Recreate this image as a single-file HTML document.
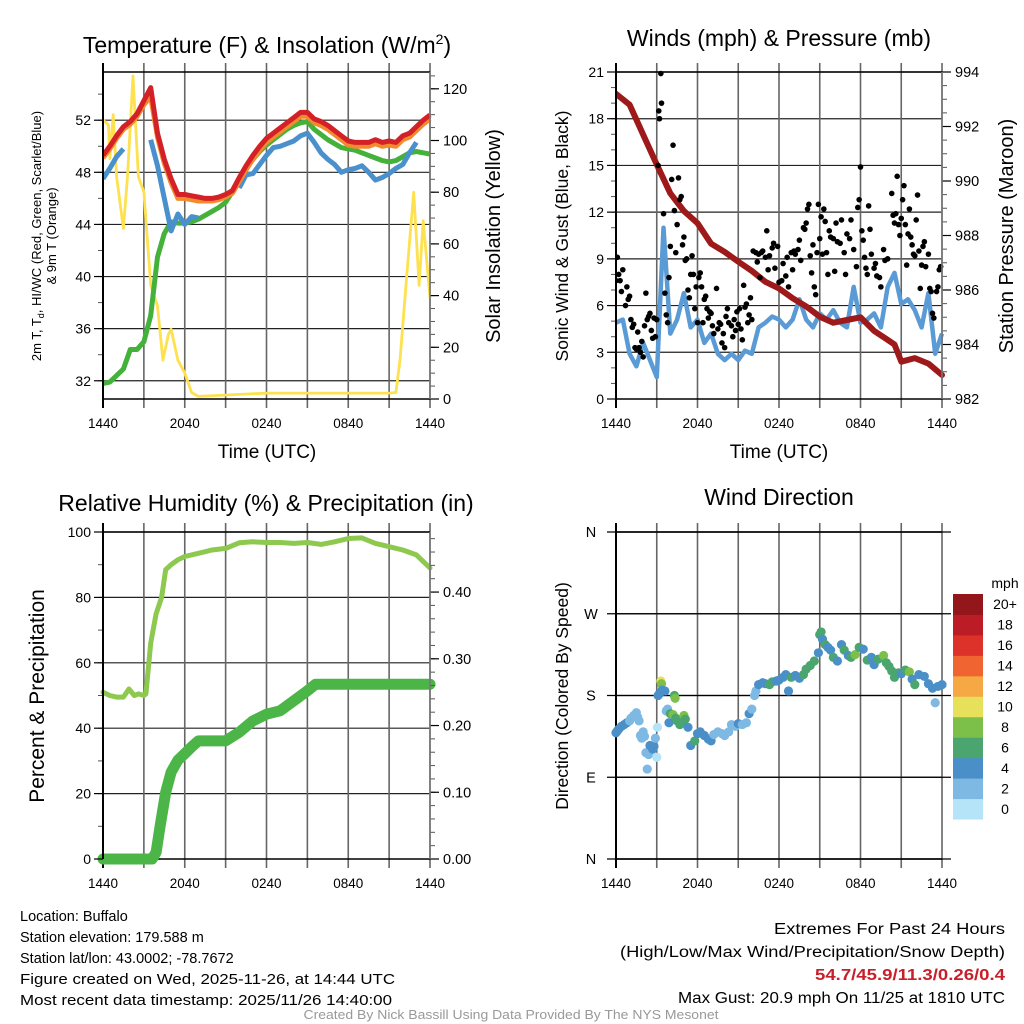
<!DOCTYPE html>
<html><head><meta charset="utf-8"><title>Buffalo Mesonet Meteogram</title>
<style>
html,body{margin:0;padding:0;background:#fff;}
svg{display:block;font-family:"Liberation Sans",sans-serif;}
</style></head>
<body>
<svg id="fig" xmlns="http://www.w3.org/2000/svg" width="1024" height="1024" viewBox="0 0 1024 1024">
<rect x="0" y="0" width="1024" height="1024" fill="#fff"/>
<text x="267" y="53" font-size="23" text-anchor="middle">Temperature (F) &amp; Insolation (W/m<tspan dy="-9" font-size="14">2</tspan><tspan dy="9">)</tspan></text>
<text x="779" y="46" font-size="23" text-anchor="middle">Winds (mph) &amp; Pressure (mb)</text>
<text x="266" y="511" font-size="23" text-anchor="middle">Relative Humidity (%) &amp; Precipitation (in)</text>
<text x="779" y="505" font-size="23" text-anchor="middle">Wind Direction</text>

<text transform="translate(41,236) rotate(-90)" font-size="13" text-anchor="middle">2m T, T<tspan font-size="9" dy="3">d</tspan><tspan dy="-3">, HI/WC (Red, Green, Scarlet/Blue)</tspan></text>
<text transform="translate(56,236) rotate(-90)" font-size="13" text-anchor="middle">&amp; 9m T (Orange)</text>
<text transform="translate(500,236) rotate(-90)" font-size="20" text-anchor="middle">Solar Insolation (Yellow)</text>
<text x="267" y="458" font-size="19" text-anchor="middle">Time (UTC)</text>
<text transform="translate(568,236) rotate(-90)" font-size="17.5" text-anchor="middle">Sonic Wind &amp; Gust (Blue, Black)</text>
<text transform="translate(1013,236) rotate(-90)" font-size="20" text-anchor="middle">Station Pressure (Maroon)</text>
<text x="779" y="458" font-size="19" text-anchor="middle">Time (UTC)</text>
<text transform="translate(44,696) rotate(-90)" font-size="21" text-anchor="middle">Percent &amp; Precipitation</text>
<text transform="translate(568,696) rotate(-90)" font-size="17.5" text-anchor="middle">Direction (Colored By Speed)</text>

<g font-size="14.5">
<text x="20" y="921">Location: Buffalo</text>
<text x="20" y="942">Station elevation: 179.588 m</text>
<text x="20" y="963">Station lat/lon: 43.0002; -78.7672</text>
<text x="20" y="984" textLength="375" lengthAdjust="spacingAndGlyphs">Figure created on Wed, 2025-11-26, at 14:44 UTC</text>
<text x="20" y="1005" textLength="372" lengthAdjust="spacingAndGlyphs">Most recent data timestamp: 2025/11/26 14:40:00</text>
</g>
<g font-size="15.5" text-anchor="end">
<text x="1005" y="934" textLength="231" lengthAdjust="spacingAndGlyphs">Extremes For Past 24 Hours</text>
<text x="1005" y="957" textLength="385" lengthAdjust="spacingAndGlyphs">(High/Low/Max Wind/Precipitation/Snow Depth)</text>
<text x="1005" y="980" fill="#c8202a" font-weight="bold" textLength="190" lengthAdjust="spacingAndGlyphs">54.7/45.9/11.3/0.26/0.4</text>
<text x="1005" y="1003" textLength="327" lengthAdjust="spacingAndGlyphs">Max Gust: 20.9 mph On 11/25 at 1810 UTC</text>
</g>
<text x="511" y="1019" font-size="12.5" fill="#999" text-anchor="middle" textLength="415" lengthAdjust="spacingAndGlyphs">Created By Nick Bassill Using Data Provided By The NYS Mesonet</text>
</svg>
<script>
// ---------- DATA ----------
const hourLabels = ["1440","2040","0240","0840","1440"];
const halfHours = [0,0.5,1,1.5,2,2.5,3,3.5,4,4.5,5,5.5,6,6.5,7,7.5,8,8.5,9,9.5,10,10.5,11,11.5,12,12.5,13,13.5,14,14.5,15,15.5,16,16.5,17,17.5,18,18.5,19,19.5,20,20.5,21,21.5,22,22.5,23,23.5,24];
const tempRed = [49.3,50.0,50.8,51.5,51.9,52.5,53.5,54.5,51.0,49.0,47.5,46.3,46.3,46.2,46.1,46.0,46.0,46.1,46.3,46.6,47.6,48.5,49.3,50.0,50.6,51.0,51.4,51.8,52.2,52.6,52.6,52.1,51.9,51.6,51.2,50.8,50.4,50.3,50.3,50.3,50.5,50.3,50.4,50.3,50.8,51.0,51.5,52.0,52.4];
const temp9m = [49.1,49.8,50.6,51.3,51.7,52.3,53.2,53.8,50.7,48.7,47.2,46.0,46.0,45.9,45.8,45.8,45.8,45.9,46.1,46.4,47.3,48.2,49.0,49.7,50.3,50.7,51.1,51.5,51.9,52.3,52.3,51.8,51.6,51.3,50.9,50.5,50.1,50.0,50.0,50.0,50.2,50.0,50.1,50.0,50.5,50.7,51.2,51.7,52.1];
const dewGreen = [31.8,31.9,32.4,32.9,34.4,34.4,35.0,37.0,41.5,43.3,44.2,44.1,44.1,44.2,44.4,44.7,45.0,45.3,45.7,46.5,47.5,48.3,49.0,49.6,50.1,50.5,50.9,51.3,51.6,51.8,51.9,51.3,50.9,50.5,50.2,49.9,49.8,49.7,49.5,49.3,49.1,48.9,48.8,48.9,49.2,49.5,49.6,49.5,49.4];
const hiwcBlue = [47.5,48.3,49.2,49.8,null,null,null,50.5,48.5,46.0,43.5,44.8,44.0,44.6,44.5,null,null,null,null,null,46.8,47.8,47.9,48.6,49.3,49.9,50.0,50.2,50.4,50.8,51.0,50.3,49.5,49.0,48.6,48.0,48.2,48.3,48.5,48.0,47.4,47.6,47.9,48.3,48.6,49.5,50.3,null,51.4];
const solarTimes = [0,0.4,0.5,0.75,1,1.5,1.8,2.2,2.6,3,3.5,4,4.4,4.8,5,5.5,6,6.5,7,12,21,21.5,21.8,22.3,22.8,23.2,23.5,23.8,24];
const solarVals = [108,106,93,110,86,66,86,125,86,80,44,36,15,25,27,15,10,2.5,1,2.3,2.3,2.5,15,48,80,44,69,51,39];
const windBlue = [4.9,5.1,2.9,2.1,3.6,2.5,1.4,11,4.2,5.1,6.8,4.6,5.1,3.6,4.2,2.9,2.5,2.9,2.5,3.1,2.9,4.6,4.9,5.3,5.1,4.6,5.1,6.4,5.1,4.6,5.5,5.1,5.7,4.9,4.6,7.2,4.9,5.1,5.5,4.6,7.2,8.1,6.1,6.4,5.7,4.6,6.8,2.9,4.2];
const pressTimes = [0,1,2,3,4,5,6,7,8,9,10,11,12,13,14,15,16,17,18,19,20,20.5,21,22,23,24];
const pressVals = [993.2,992.8,991.7,990.6,989.55,988.9,988.45,987.7,987.4,987.04,986.7,986.3,986.06,985.7,985.4,985.02,984.8,984.9,985.0,984.5,984.17,984.0,983.37,983.5,983.3,982.88];
const gustTimes = [0,0.1,0.2,0.3,0.4,0.5,0.7,0.8,0.9,1.0,1.1,1.2,1.3,1.4,1.5,1.6,1.7,1.8,1.9,2.0,2.1,2.2,2.3,2.4,2.5,2.6,2.7,2.8,2.9,3.0,3.1,3.15,3.2,3.3,3.35,3.5,3.6,3.7,3.8,3.9,4.0,4.1,4.2,4.3,4.4,4.5,4.6,4.7,4.8,4.9,5.0,5.1,5.2,5.3,5.4,5.5,5.6,5.7,5.8,5.9,6.0,6.1,6.2,6.3,6.4,6.5,6.6,6.7,6.8,6.9,7.0,7.1,7.2,7.4,7.5,7.6,7.7,7.8,7.9,8.0,8.1,8.2,8.3,8.5,8.6,8.7,8.8,8.9,9.0,9.1,9.2,9.3,9.4,9.5,9.6,9.7,9.8,9.9,10.0,10.1,10.3,10.4,10.5,10.6,10.7,10.8,11.0,11.1,11.2,11.3,11.5,11.6,11.7,11.9,12.0,12.2,12.3,12.5,12.6,12.7,12.9,13.0,13.1,13.2,13.4,13.5,13.6,13.8,13.9,14.0,14.1,14.2,14.3,14.4,14.5,14.6,14.7,14.8,14.9,15.0,15.1,15.2,15.3,15.4,15.5,15.6,15.7,15.8,16.0,16.1,16.2,16.3,16.5,16.6,16.8,16.9,17.0,17.2,17.3,17.5,17.7,17.8,17.9,18.0,18.1,18.2,18.3,18.4,18.5,18.6,18.7,18.8,19.0,19.1,19.2,19.4,19.5,19.7,19.8,20.0,20.3,20.4,20.5,20.6,20.7,20.8,20.9,21.0,21.1,21.2,21.3,21.4,21.5,21.6,21.7,21.8,21.9,22.0,22.1,22.2,22.3,22.4,22.5,22.6,22.7,22.8,23.0,23.1,23.2,23.3,23.4,23.6,23.7,23.8,23.9];
const gustVals = [7.6,9.1,8,7.6,6.9,8.3,6,7.2,6.4,6.6,5.1,4.6,4.8,3.3,3.2,4.3,3.3,3.0,3.7,2.7,4.7,6.8,5.1,5.3,5.5,4.4,3.9,5.2,4.0,5.1,15.0,18.5,18.0,20.9,19.0,11.9,6.8,5.4,4.9,7.8,9.8,14.1,16.3,12.1,9.4,11.2,14.2,12.8,13.0,9.9,10.4,8.9,9.0,7.0,6.5,8.0,9.2,8.0,5.8,7.2,4.9,7.8,8.1,7.2,4.9,6.4,6.6,5.8,5.2,5.6,5.5,4.7,4.2,7.1,4.5,4.9,4.8,3.6,4.2,3.3,5.3,5.8,4.9,4.7,4.0,5.1,4.4,5.6,4.8,5.8,4.5,3.8,7.3,5.9,6.1,4.9,5.4,6.5,5.1,9.5,9.4,8.8,9.3,7.8,9.4,9.5,9.1,10.8,8.3,9.2,9.7,10.0,8.4,9.8,7.5,7.6,8.7,7.9,9.1,7.2,9.4,8.3,9.5,9.3,9.6,10.2,8.9,11.0,10.9,11.3,12.2,12.5,9.2,8.1,9.9,7.2,6.7,9.4,12.5,10.3,11.7,9.3,12.2,11.4,9.4,8.0,10.8,10.4,10.3,8.2,11.3,10.1,10.0,11.5,9.4,8.0,10.6,10.3,11.5,9.6,8.5,12.3,12.8,14.9,10.8,10.2,9.1,8.4,8.0,12.4,10.9,9.3,8.4,8.7,7.9,7.8,7.2,9.6,8.9,9.0,13.2,11.8,11.3,11.9,14.3,11.2,10.5,11.6,12.8,13.7,11.2,8.6,10.6,12.2,10.4,9.9,9.3,9.2,11.5,13.1,9.5,7.1,8.6,9.8,10.1,8.5,9.3,7.1,6.9,5.5,5.2,6.9,7.2,8.3,8.5];
const rhTimes = [0,0.5,1,1.5,1.9,2.3,2.6,3,3.15,3.5,3.9,4.3,4.6,5,5.5,6,7,8,9,10,11,12,13,14,15,16,17,18,19,20,21,22,23,24];
const rhVals = [51,50,49.5,49.5,52,50,50.5,50,50.5,66,75,80,88.5,90,91.5,92.5,93.5,94.5,95,96.7,97,96.8,96.8,96.5,96.8,96.2,97,98,98.2,96.5,95.5,94.5,93,89];
const precipTimes = [0,3.6,3.9,4.2,4.6,5,5.5,6,6.5,7,8,9,10,11,12,13,14,15,15.6,24];
const precipVals = [0,0,0.01,0.05,0.1,0.13,0.148,0.158,0.168,0.177,0.177,0.177,0.19,0.207,0.217,0.222,0.237,0.252,0.262,0.262];
const dirTimes = [0,0.1,0.2,0.4,0.6,0.8,1.0,1.1,1.3,1.5,1.6,1.7,1.8,1.9,2.0,2.1,2.2,2.3,2.4,2.5,2.7,2.8,2.9,3.0,3.05,3.1,3.2,3.3,3.35,3.4,3.6,3.7,3.8,3.9,4.0,4.2,4.3,4.35,4.4,4.5,4.7,4.8,5.0,5.1,5.3,5.5,5.8,6.0,6.2,6.5,6.8,7.0,7.2,7.5,7.8,8.0,8.3,8.5,8.8,9.0,9.3,9.6,9.8,10.0,10.2,10.3,10.5,10.8,11.0,11.3,11.5,11.8,12.0,12.3,12.5,12.7,12.9,13.2,13.5,13.8,14.0,14.3,14.6,14.9,15.0,15.1,15.2,15.4,15.6,15.8,16.0,16.3,16.6,16.8,17.1,17.3,17.6,17.9,18.2,18.5,18.8,19.0,19.3,19.7,19.9,20.1,20.3,20.5,20.8,21.0,21.3,21.6,21.8,22.0,22.3,22.7,23.0,23.3,23.5,23.7,24.0];
const dirVals = [139,141,143,146,148,150,152,155,158,161,156,152,136,133,140,135,117,99,115,125,121,124,133,112,145,180,182,196,193,186,185,163,165,150,160,159,180,177,155,152,148,150,158,154,145,125,130,138,140,136,132,130,137,140,138,136,140,148,146,149,148,150,160,165,180,185,192,194,193,192,195,196,197,200,203,185,200,202,199,203,209,213,218,227,247,250,242,236,233,230,222,218,236,230,224,222,225,233,231,219,222,214,220,224,216,212,207,200,205,204,208,206,198,192,203,201,193,188,172,190,192];
const dirSpeeds = [4,5,4,4,4,4,3,3,2,2,2,2,3,2,2,2,2,2,2,4,4,4,2,1,1,4,4,10,8,4,4,2,2,4,6,8,6,8,6,6,6,6,8,6,4,4,6,4,4,4,4,4,2,2,2,2,2,2,2,4,2,2,4,2,2,2,4,4,4,6,6,4,4,4,4,4,6,4,4,6,6,6,6,4,6,6,4,6,4,4,6,4,4,6,4,6,8,6,4,6,4,4,6,8,6,6,6,6,6,4,6,8,4,6,4,4,4,4,2,4,4];
const speedBinLabels = ["0","2","4","6","8","10","12","14","16","18","20+"];
const speedBinColors = ["#b5e3f7","#7eb9e3","#4a8fc8","#4aa56e","#7cc04a","#e6e05a","#f5a843","#ef6430","#dd3229","#bb1c26","#92161a"];

// ---------- HELPERS ----------
const NS = "http://www.w3.org/2000/svg";
const svg = document.getElementById("fig");
function mk(tag, attrs, parent){
  const el = document.createElementNS(NS, tag);
  for (const k in attrs) el.setAttribute(k, attrs[k]);
  (parent || svg).appendChild(el);
  return el;
}
function panel(x0,x1,y0,y1){ return {x0,x1,y0,y1, tx: h => x0 + h/24*(x1-x0)}; }
function linScale(lo,hi,y0,y1){ return v => y1 - (v-lo)/(hi-lo)*(y1-y0); }

const PA = panel(103,430,72,399), PB = panel(616,942,72,399), PC = panel(103,430,532,859), PD = panel(616,942,532,859);
const yTemp = linScale(30.6,55.7,PA.y0,PA.y1);
const ySol = linScale(0,126.5,PA.y0,PA.y1);
const yWind = linScale(0,21,PB.y0,PB.y1);
const yPres = linScale(982,994,PB.y0,PB.y1);
const yRH = linScale(0,100,PC.y0,PC.y1);
const yPcp = linScale(0,0.49,PC.y0,PC.y1);
const yDir = linScale(0,360,PD.y0,PD.y1);

function frame(P, name, hGridVals, yScale, hGridColor){
  const g = mk("g", {});
  
  
  hGridVals.forEach(v => {
    const y = yScale(v);
    const l = mk("line", {x1:P.x0, x2:P.x1, y1:y, y2:y, stroke:hGridColor, "stroke-width":1.2}, g);
    
    
  });
  for (let i=0;i<=8;i++){
    const x = P.tx(i*3);
    const l = mk("line", {x1:x, x2:x, y1:P.y0-9, y2:P.y1+9, stroke: i===0 ? "#000" : "#666", "stroke-width": i===0 ? 2 : 1.6}, g);
    
    
  }
  const t = mk("line", {x1:P.x0, x2:P.x1, y1:P.y0, y2:P.y0, stroke:"#000", "stroke-width":1.4}, g);
  
  
  const b = mk("line", {x1:P.x0, x2:P.x1, y1:P.y1, y2:P.y1, stroke:"#000", "stroke-width":1.4}, g);
  
  
  hourLabels.forEach((lab,i) => {
    const tx = mk("text", {x:P.tx(i*6), y:P.y1+29, "font-size":13.5, "text-anchor":"middle"}, g);
    tx.textContent = lab;
    
    
  });
}
function yAxis(P, side, scale, majorLo, minorLo, hi, major, minor, fmt, name, fontSize){
  const g = mk("g", {});
  
  
  const x = side === "left" ? P.x0 : P.x1;
  const d = side === "left" ? -1 : 1;
  if (minor){
    for (let v = minorLo; v <= hi + 1e-9; v += minor){
      const y = scale(v);
      if (y < P.y0-0.5 || y > P.y1+0.5) continue;
      const l = mk("line", {x1:x, x2:x + d*5, y1:y, y2:y, stroke:"#555", "stroke-width":1}, g);
      
      
    }
  }
  for (let v = majorLo; v <= hi + 1e-9; v += major){
    const y = scale(v);
    if (y < P.y0-0.5 || y > P.y1+0.5) continue;
    const l = mk("line", {x1:x, x2:x + d*9, y1:y, y2:y, stroke:"#000", "stroke-width":1.2}, g);
    
    
    const tx = mk("text", {x: side==="left" ? x-12 : x+13, y:y+5, "font-size":fontSize, "text-anchor": side==="left" ? "end" : "start"}, g);
    tx.textContent = fmt(v);
    
    
  }
  const ax = mk("line", {x1:x, x2:x, y1:P.y0, y2:P.y1, stroke: side==="left" ? "#000" : "#777", "stroke-width": side==="left" ? 2 : 1.6}, g);
  
  
}
function pathFrom(P, times, vals, scale){
  let d = "", pen = false;
  for (let i=0;i<times.length;i++){
    if (vals[i] === null){ pen = false; continue; }
    d += (pen ? "L" : "M") + P.tx(times[i]).toFixed(1) + "," + scale(vals[i]).toFixed(1);
    pen = true;
  }
  return d;
}
function clip(P, id){
  const cp = mk("clipPath", {id:id});
  mk("rect", {x:P.x0, y:P.y0-3, width:P.x1-P.x0+3, height:P.y1-P.y0+6}, cp);
}

// ---------- PANEL A: Temperature ----------
frame(PA, "temperature", [32,36,40,44,48,52], yTemp, "#222");
clip(PA, "clipA");
const gA = mk("g", {"clip-path":"url(#clipA)"});


const solLine = mk("path", {d:pathFrom(PA, solarTimes, solarVals, ySol), fill:"none", stroke:"#fde14f", "stroke-width":2.8, "stroke-linejoin":"round"}, gA);


const greenLine = mk("path", {d:pathFrom(PA, halfHours, dewGreen, yTemp), fill:"none", stroke:"#44b13b", "stroke-width":5, "stroke-linejoin":"round"}, gA);


const blueLine = mk("path", {d:pathFrom(PA, halfHours, hiwcBlue, yTemp), fill:"none", stroke:"#4a90cc", "stroke-width":5, "stroke-linejoin":"round"}, gA);


const orangeLine = mk("path", {d:pathFrom(PA, halfHours, temp9m, yTemp), fill:"none", stroke:"#f28b2e", "stroke-width":5, "stroke-linejoin":"round"}, gA);


const redLine = mk("path", {d:pathFrom(PA, halfHours, tempRed, yTemp), fill:"none", stroke:"#d42127", "stroke-width":5, "stroke-linejoin":"round"}, gA);


yAxis(PA, "left", yTemp, 32, 30, 56, 4, 2, v => String(v), "temperature-y-axis", 14);
yAxis(PA, "right", ySol, 0, 0, 125, 20, 5, v => String(v), "insolation-y-axis", 14.5);

// ---------- PANEL B: Winds ----------
frame(PB, "winds", [3,6,9,12,15,18,21], yWind, "#222");
clip(PB, "clipB");
const gB = mk("g", {"clip-path":"url(#clipB)"});


const windLine = mk("path", {d:pathFrom(PB, halfHours, windBlue, yWind), fill:"none", stroke:"#5b9bd5", "stroke-width":4.5, "stroke-linejoin":"round"}, gB);


const pLine = mk("path", {d:pathFrom(PB, pressTimes, pressVals, yPres), fill:"none", stroke:"#9e1a1a", "stroke-width":6, "stroke-linejoin":"round", "stroke-linecap":"round"}, gB);


for (let i=0;i<gustTimes.length;i++){
  const c = mk("circle", {cx:PB.tx(gustTimes[i]), cy:yWind(gustVals[i]), r:2.8, fill:"#000"}, gB);
  
  
}
yAxis(PB, "left", yWind, 0, 0, 21, 3, 1, v => String(v), "wind-y-axis", 14);
yAxis(PB, "right", yPres, 982, 982, 994, 2, 0.5, v => String(v), "pressure-y-axis", 14.5);

// ---------- PANEL C: Humidity ----------
frame(PC, "humidity", [20,40,60,80,100], yRH, "#222");
const gC = mk("g", {});


const rhLine = mk("path", {d:pathFrom(PC, rhTimes, rhVals, yRH), fill:"none", stroke:"#8dc84f", "stroke-width":5, "stroke-linejoin":"round", "stroke-linecap":"round"}, gC);


const pcLine = mk("path", {d:pathFrom(PC, precipTimes, precipVals, yPcp), fill:"none", stroke:"#4bb647", "stroke-width":11, "stroke-linejoin":"round", "stroke-linecap":"round"}, gC);


yAxis(PC, "left", yRH, 0, 0, 100, 20, 10, v => String(v), "humidity-y-axis", 14);
yAxis(PC, "right", yPcp, 0, 0, 0.49, 0.1, 0.02, v => v.toFixed(2), "precipitation-y-axis", 14.5);

// ---------- PANEL D: Wind direction ----------
frame(PD, "direction", [90,180,270,360,0], yDir, "#222");
const dirLabels = ["N","E","S","W","N"];
dirLabels.forEach((lab,i) => {
  const y = yDir(i*90);
  const tk = mk("line", {x1:PD.x0-9, x2:PD.x1+9, y1:y, y2:y, stroke:"#000", "stroke-width":1.2});
  
  
  const t = mk("text", {x:591, y:y+5, "font-size":14.5, "text-anchor":"middle"});
  t.textContent = lab;
  
  
});
const ax = mk("line", {x1:PD.x0, x2:PD.x0, y1:PD.y0, y2:PD.y1, stroke:"#000", "stroke-width":2});


const gD = mk("g", {});


for (let i=0;i<dirTimes.length;i++){
  const idx = Math.min(10, Math.floor(dirSpeeds[i]/2));
  const c = mk("circle", {cx:PD.tx(dirTimes[i]), cy:yDir(dirVals[i]), r:4.6, fill:speedBinColors[idx]}, gD);
  
  
}
// colorbar
const cb = mk("g", {});


const mphT = mk("text", {x:1005, y:588, "font-size":14, "text-anchor":"middle"}, cb);
mphT.textContent = "mph";


const binH = (819-594)/speedBinLabels.length;
for (let i=0;i<speedBinLabels.length;i++){
  const y = 594 + (speedBinLabels.length-1-i)*binH;
  const r = mk("rect", {x:953, y:y, width:30, height:binH+0.5, fill:speedBinColors[i]}, cb);
  
  
  const t = mk("text", {x:1005, y:y+binH/2+5, "font-size":14, "text-anchor":"middle"}, cb);
  t.textContent = speedBinLabels[i];
  
  
}
</script>
</body></html>
